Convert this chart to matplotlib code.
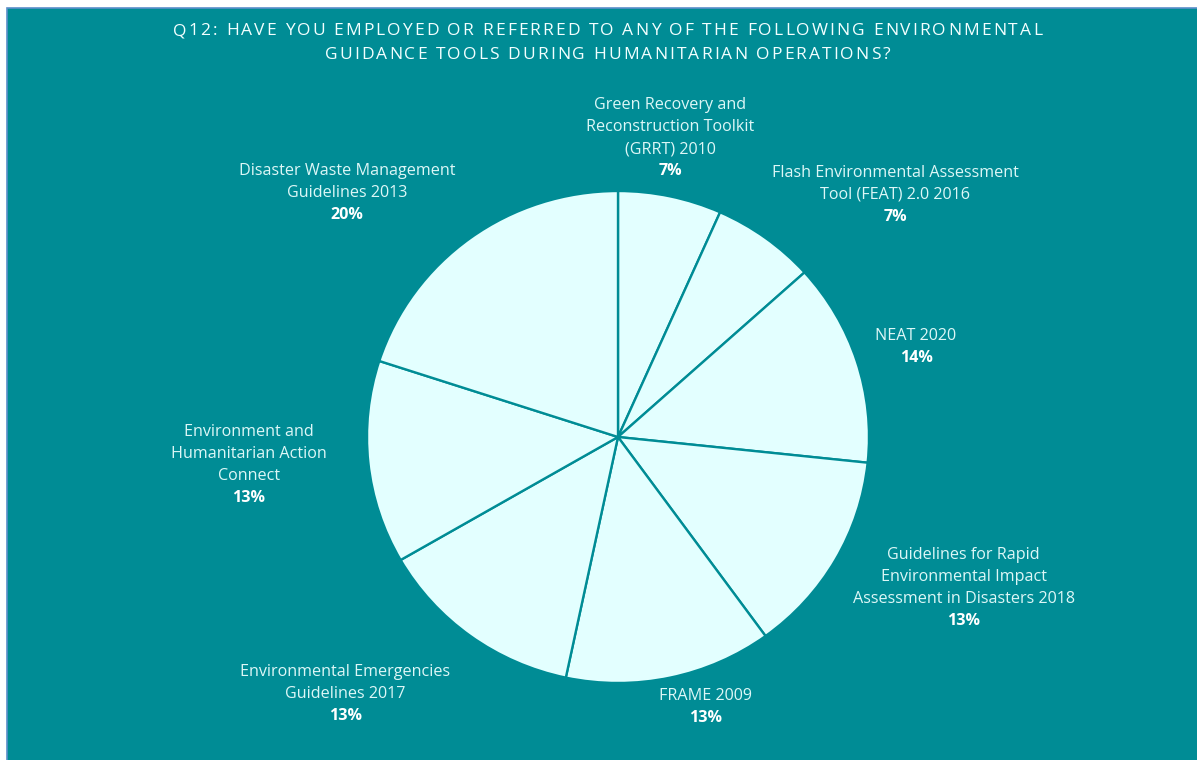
import matplotlib.pyplot as plt
from matplotlib.patches import Rectangle
import numpy as np

# chart data
tools = [
    'Green Recovery and\nReconstruction Toolkit\n(GRRT) 2010',
    'Flash Environmental Assessment\nTool (FEAT) 2.0 2016',
    'NEAT 2020',
    'Guidelines for Rapid\nEnvironmental Impact\nAssessment in Disasters 2018',
    'FRAME 2009',
    'Environmental Emergencies\nGuidelines 2017',
    'Environment and\nHumanitarian Action\nConnect',
    'Disaster Waste Management\nGuidelines 2013',
]
responses = [1, 1, 2, 2, 2, 2, 2, 3]          # slice sizes
pct_labels = ['7%', '7%', '14%', '13%', '13%', '13%', '13%', '20%']  # as printed
title_lines = ['Q12: HAVE YOU EMPLOYED OR REFERRED TO ANY OF THE FOLLOWING ENVIRONMENTAL',
               'GUIDANCE TOOLS DURING HUMANITARIAN OPERATIONS?']

# label placement (angle in degrees, distance in pie radii) for the % line
label_angle = [78.6, 38.1, 14.4, -28.2, -72.6, -134.0, -170.3, 140.8]
label_dist = [1.08, 1.42, 1.24, 1.58, 1.19, 1.57, 1.50, 1.40]

teal = '#008C95'
pie_fill = '#E3FFFF'
text_col = '#DDF7F7'
W, H = 1197, 760

fig = plt.figure(figsize=(W / 100, H / 100), dpi=100, facecolor='white')
fig.patches.append(Rectangle((7 / W, -0.05), 1.1, 1.05 - 7.5 / H, transform=fig.transFigure,
                             facecolor=teal, edgecolor='#5B8FC9', linewidth=1.2, zorder=-5))

# pie in its own axes (slightly wider than tall, like the original)
cx_px, cy_px, rx, ry = 618, 437, 251, 246
pax = fig.add_axes([(cx_px - rx) / W, (H - cy_px - ry) / H, 2 * rx / W, 2 * ry / H])
pax.pie(responses, startangle=90, counterclock=False,
        colors=[pie_fill] * len(responses),
        wedgeprops=dict(edgecolor=teal, linewidth=1.7))
pax.set_aspect('auto')
pax.set_xlim(-1, 1)
pax.set_ylim(-1, 1)
pax.axis('off')

# overlay axes in pixel units for the labels
ax = fig.add_axes([0, 0, 1, 1])
ax.set_xlim(0, W)
ax.set_ylim(0, H)
ax.axis('off')

cx, cy, r = 617, H - 435, 249
pitch = 22
for name, pct, ang, d in zip(tools, pct_labels, label_angle, label_dist):
    x = cx + d * r * np.cos(np.radians(ang))
    y = cy + d * r * np.sin(np.radians(ang))
    lines = name.split('\n')
    n = len(lines)
    for i, ln in enumerate(lines):
        ax.text(x, y + (n - i) * pitch, ln, ha='center', va='center',
                fontsize=11.6, color=text_col, family='Open Sans')
    ax.text(x, y, pct, ha='center', va='center', fontsize=11.6,
            fontweight='bold', color='white', family='Open Sans')

# title with letter spacing: place each character by hand
renderer = fig.canvas.get_renderer()
tprops = dict(fontsize=12.5, color='#F2FFFF', family='Open Sans', va='center', ha='left')


def text_width(s):
    t = fig.text(0, 0, s + '|', **tprops)
    w = t.get_window_extent(renderer).width
    t.remove()
    return w


bar_w = text_width('')
line1_w = text_width(title_lines[0]) - bar_w
track = (869 - line1_w) / (len(title_lines[0]) - 1)
for ln, ty in zip(title_lines, [31, 55]):
    total = text_width(ln) - bar_w + track * (len(ln) - 1)
    x0 = 607.5 - total / 2
    for i, ch in enumerate(ln):
        if ch == ' ':
            continue
        px = x0 + text_width(ln[:i]) - bar_w + track * i
        fig.text(px / W, 1 - ty / H, ch, **tprops)

fig.savefig('out.png', dpi=100, facecolor=fig.get_facecolor())
